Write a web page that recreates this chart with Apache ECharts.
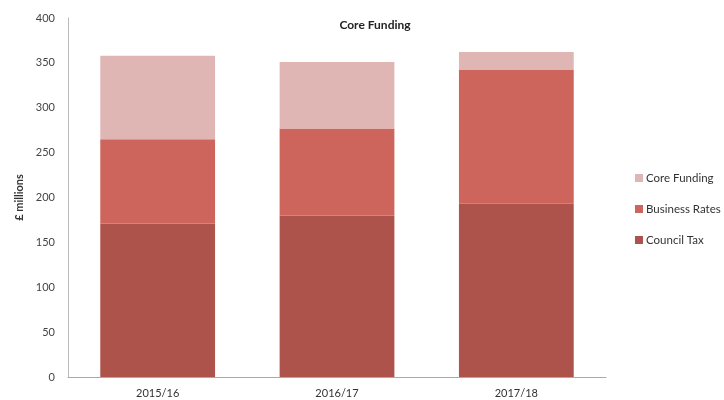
<!DOCTYPE html>
<html>
<head>
<meta charset="utf-8">
<script src="https://cdn.jsdelivr.net/npm/echarts@6/dist/echarts.min.js"></script>
<style>
  html, body { margin: 0; padding: 0; background: #fff; }
  #chart { width: 724px; height: 400px; }
</style>
</head>
<body>
<div id="chart"></div>
<script>
// Funding sources by year, £ millions
const years = ['2015/16', '2016/17', '2017/18'];
const councilTax = [171, 180, 193];
const businessRates = [94, 97, 149];
const coreFunding = [93, 74, 20];
const yTicks = [0, 50, 100, 150, 200, 250, 300, 350, 400];

const FONT = 'Lato, "Open Sans", sans-serif';
const chart = echarts.init(document.getElementById('chart'));

chart.setOption({
  animation: false,
  textStyle: { fontFamily: FONT },
  title: {
    text: 'Core Funding',
    left: 370,
    top: 14,
    textAlign: 'center',
    textStyle: { fontFamily: FONT, fontSize: 12, fontWeight: 'bold', color: '#222' }
  },
  legend: {
    orient: 'vertical',
    left: 630,
    top: 167,
    itemWidth: 8,
    itemHeight: 8,
    itemGap: 19,
    icon: 'rect',
    data: ['Core Funding', 'Business Rates', 'Council Tax'],
    textStyle: { fontFamily: FONT, fontSize: 11.5, color: '#333', padding: [0, 0, 0, -2] }
  },
  grid: { left: 68, right: 118, top: 18, bottom: 23 },
  xAxis: {
    type: 'category',
    data: years,
    axisLine: { lineStyle: { color: '#aaa' } },
    axisTick: { show: false },
    axisLabel: { fontFamily: FONT, fontSize: 11, color: '#333', margin: 11 }
  },
  yAxis: {
    type: 'value',
    min: yTicks[0],
    max: yTicks[yTicks.length - 1],
    interval: yTicks[1] - yTicks[0],
    name: '£ millions',
    nameLocation: 'middle',
    nameRotate: 90,
    nameGap: 43,
    nameTextStyle: { fontFamily: FONT, fontSize: 11, fontWeight: 'bold', color: '#333' },
    axisLine: { show: true, lineStyle: { color: '#bbb' } },
    axisTick: { show: false },
    splitLine: { show: false },
    axisLabel: { fontFamily: FONT, fontSize: 11, color: '#444', margin: 13 }
  },
  series: [
    { name: 'Council Tax', type: 'bar', stack: 'total', data: councilTax,
      barCategoryGap: '36%', itemStyle: { color: '#AE534C' } },
    { name: 'Business Rates', type: 'bar', stack: 'total', data: businessRates,
      itemStyle: { color: '#CD655D' } },
    { name: 'Core Funding', type: 'bar', stack: 'total', data: coreFunding,
      itemStyle: { color: '#E0B6B4' } }
  ]
});
</script>
</body>
</html>
